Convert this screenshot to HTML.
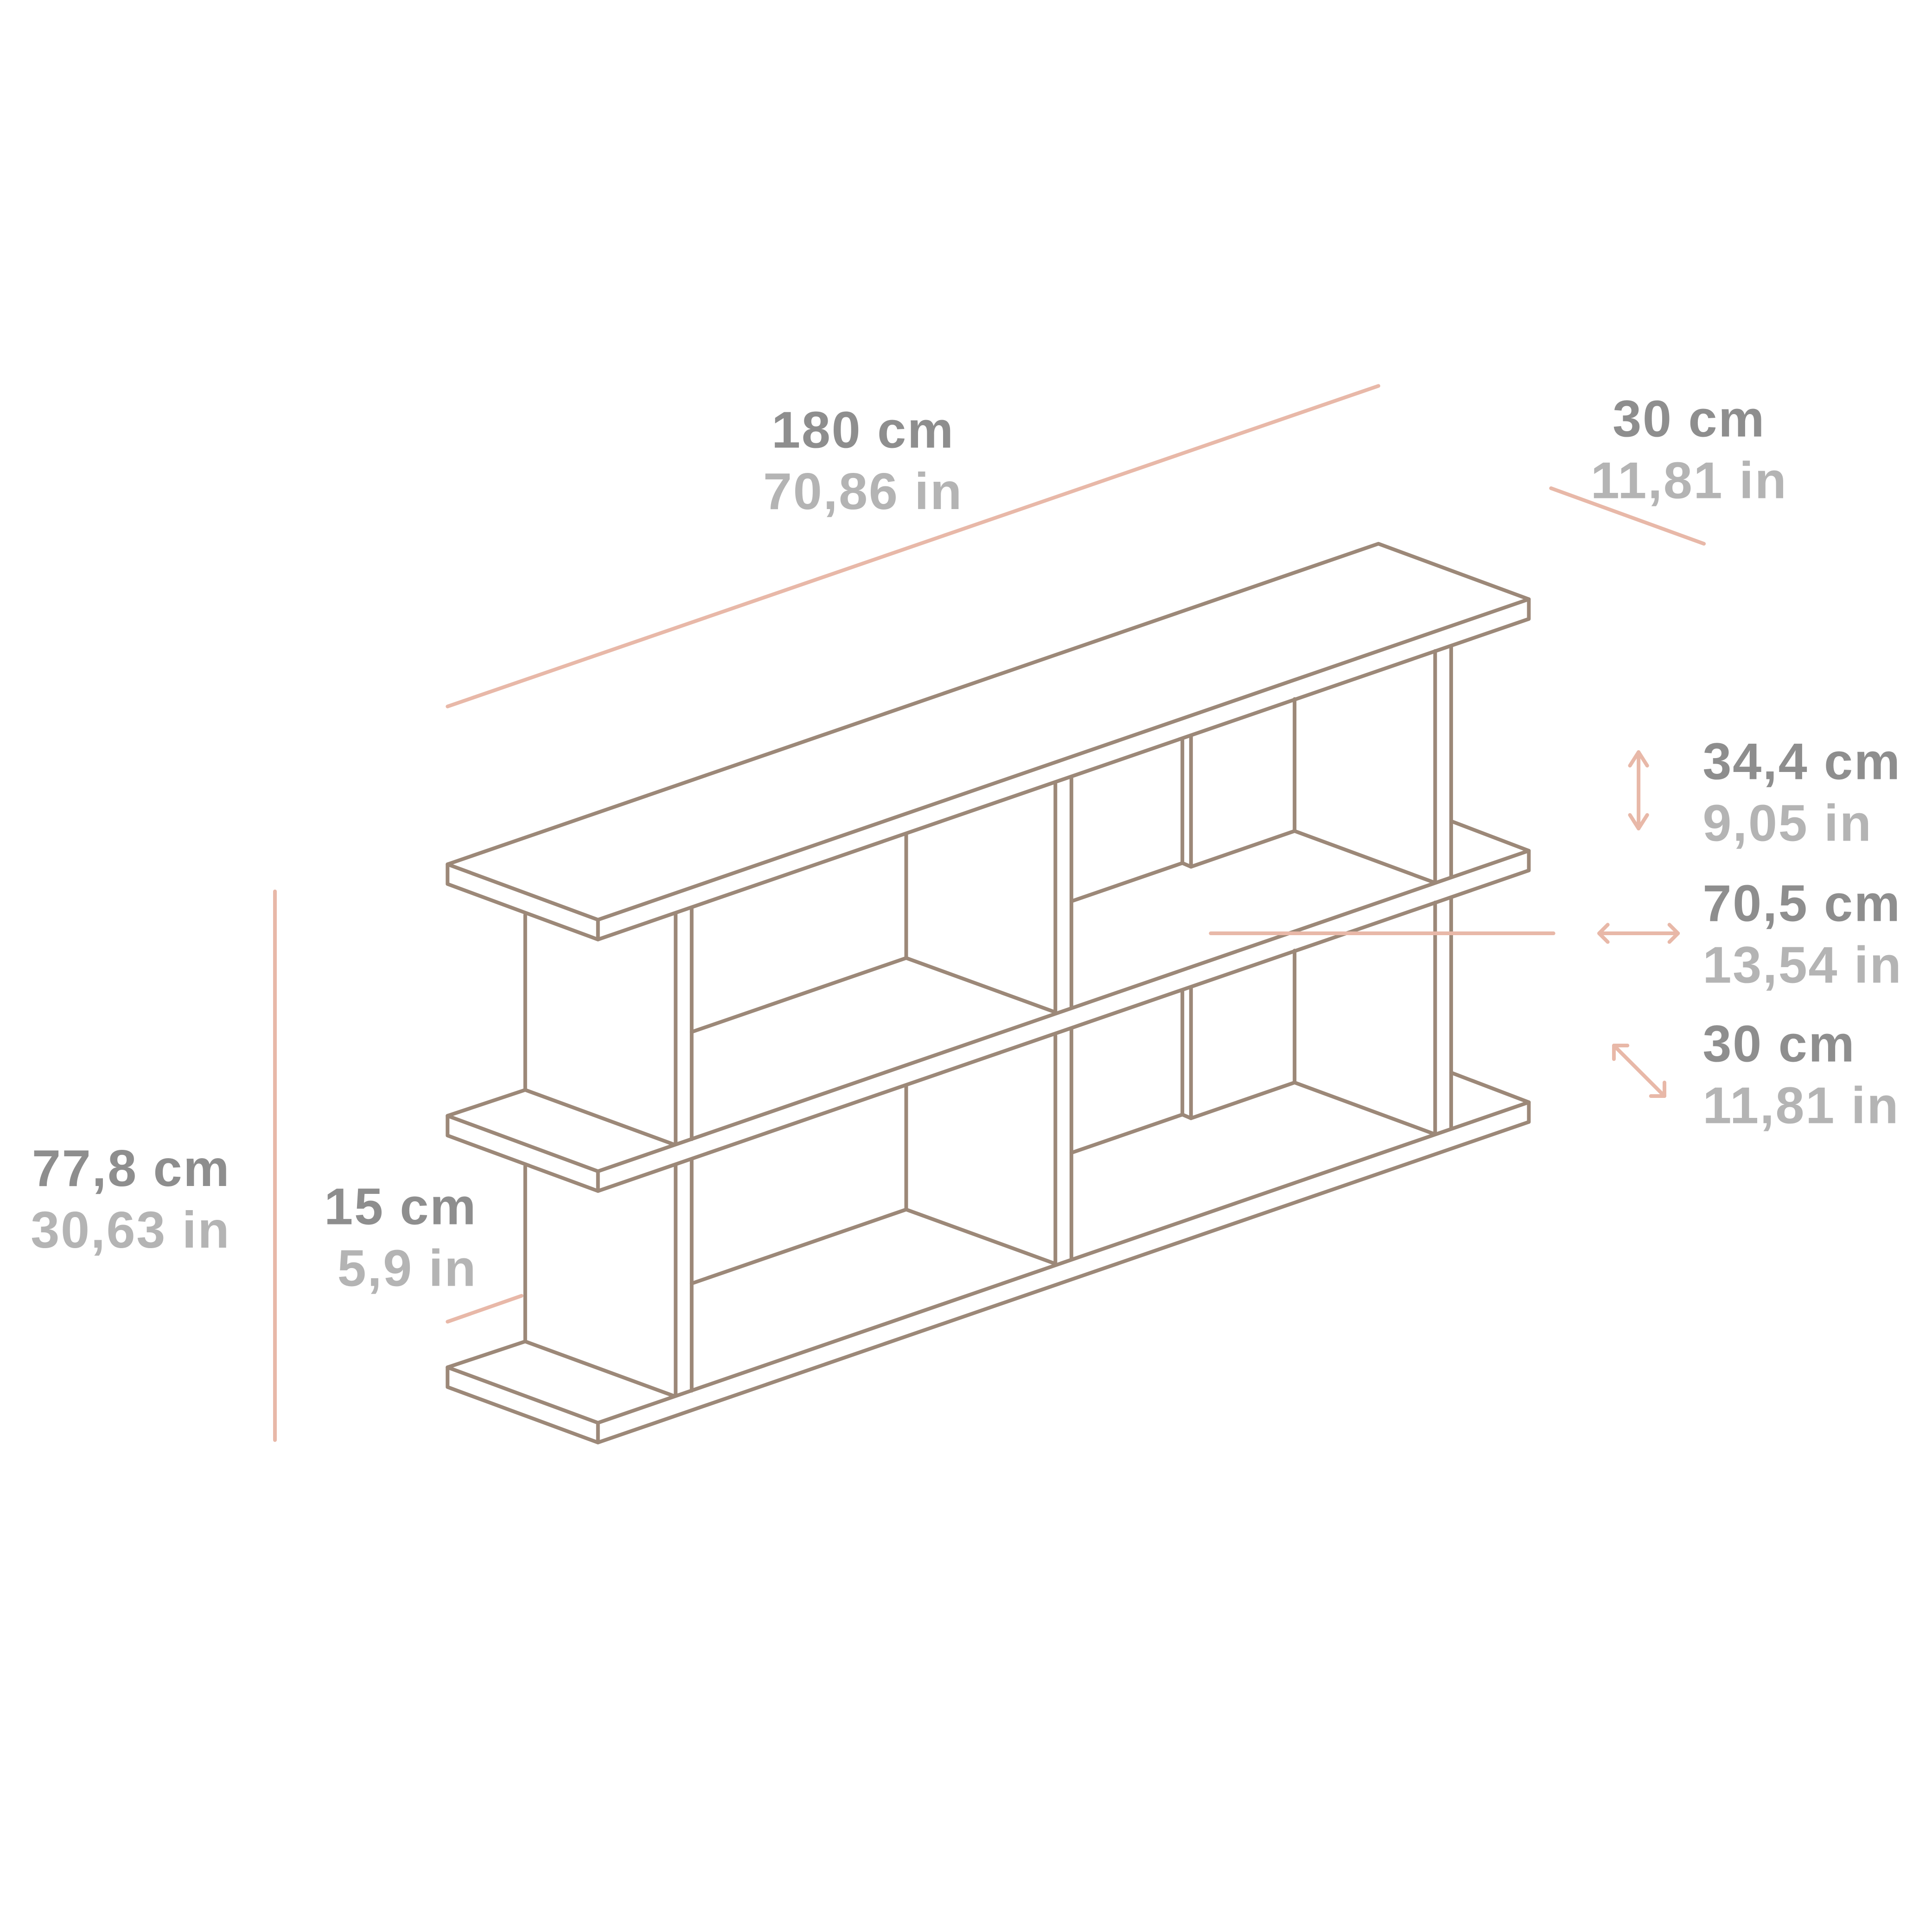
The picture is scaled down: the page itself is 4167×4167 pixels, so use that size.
<!DOCTYPE html>
<html><head><style>html,body{margin:0;padding:0;background:#fff}svg{display:block}</style></head>
<body>
<svg width="4167" height="4167" viewBox="0 0 1567 1567" xmlns="http://www.w3.org/2000/svg">
<g fill="none" stroke="#9c8878" stroke-width="3" stroke-linejoin="round" stroke-linecap="round">
<polygon points="363,701 1118,441 1240,486 485,746"/>
<polyline points="363,701 363,717 485,762 485,746"/>
<polyline points="485,762 1240,502 1240,486"/>
<polyline points="363,905 426,884 546,928"/>
<polyline points="363,905 485,950 1240,690 1177,666"/>
<polyline points="363,905 363,921 485,966 1240,706 1240,690"/>
<line x1="485" y1="950" x2="485" y2="966"/>
<polyline points="363,1109 426,1088 546,1132"/>
<polyline points="363,1109 485,1154 1240,894 1177,870"/>
<polyline points="363,1109 363,1125 485,1170 1240,910 1240,894"/>
<line x1="485" y1="1154" x2="485" y2="1170"/>
<line x1="426" y1="742" x2="426" y2="884"/>
<line x1="426" y1="946" x2="426" y2="1088"/>
<line x1="548" y1="741" x2="548" y2="928"/><line x1="561" y1="737" x2="561" y2="924"/>
<line x1="548" y1="945" x2="548" y2="1132"/><line x1="561" y1="941" x2="561" y2="1128"/>
<polyline points="561,837 735,777 856,821"/><line x1="735" y1="677" x2="735" y2="777"/>
<polyline points="561,1041 735,981 856,1025"/><line x1="735" y1="881" x2="735" y2="981"/>
<line x1="856" y1="636" x2="856" y2="821"/><line x1="869" y1="631" x2="869" y2="817"/>
<line x1="856" y1="840" x2="856" y2="1025"/><line x1="869" y1="835" x2="869" y2="1021"/>
<polyline points="869,731 959,700 966,703 1050,674 1164,716"/>
<line x1="959" y1="600" x2="959" y2="700"/><line x1="966" y1="597" x2="966" y2="703"/>
<line x1="1050" y1="567" x2="1050" y2="674"/>
<polyline points="869,935 959,904 966,907 1050,878 1164,920"/>
<line x1="959" y1="804" x2="959" y2="904"/><line x1="966" y1="801" x2="966" y2="907"/>
<line x1="1050" y1="771" x2="1050" y2="878"/>
<line x1="1164" y1="528" x2="1164" y2="716"/><line x1="1177" y1="524" x2="1177" y2="711"/>
<line x1="1164" y1="732" x2="1164" y2="920"/><line x1="1177" y1="728" x2="1177" y2="915"/>
</g>
<g fill="none" stroke="#e8b8a8" stroke-width="3" stroke-linecap="round" stroke-linejoin="round">
<line x1="363" y1="573" x2="1118" y2="313"/>
<line x1="1258" y1="396" x2="1382" y2="441"/>
<line x1="223" y1="723" x2="223" y2="1168"/>
<line x1="363" y1="1072" x2="423" y2="1051"/>
<line x1="982" y1="757" x2="1260" y2="757"/>
<line x1="1329" y1="610" x2="1329" y2="672"/>
<polyline points="1322,621 1329,610 1336,621"/><polyline points="1322,661 1329,672 1336,661"/>
<line x1="1297" y1="757" x2="1361" y2="757"/>
<polyline points="1304,750 1297,757 1304,764"/><polyline points="1354,750 1361,757 1354,764"/>
<line x1="1309" y1="848" x2="1350" y2="889"/>
<polyline points="1309,859 1309,848 1320,848"/><polyline points="1350,878 1350,889 1339,889"/>
</g>
<g font-family="'Liberation Sans',sans-serif" font-weight="bold" font-size="42" letter-spacing="1">
<g fill="#8e8e8e">
<text x="700" y="363" text-anchor="middle">180 cm</text>
<text x="1370" y="354" text-anchor="middle">30 cm</text>
<text x="1381" y="632">34,4 cm</text>
<text x="1381" y="747">70,5 cm</text>
<text x="1381" y="861">30 cm</text>
<text x="187" y="962" text-anchor="end">77,8 cm</text>
<text x="387" y="993" text-anchor="end">15 cm</text>
</g>
<g fill="#b4b4b4">
<text x="700" y="413" text-anchor="middle">70,86 in</text>
<text x="1370" y="404" text-anchor="middle">11,81 in</text>
<text x="1381" y="682">9,05 in</text>
<text x="1381" y="797">13,54 in</text>
<text x="1381" y="911">11,81 in</text>
<text x="187" y="1012" text-anchor="end">30,63 in</text>
<text x="387" y="1043" text-anchor="end">5,9 in</text>
</g>
</g>
</svg>
</body></html>
